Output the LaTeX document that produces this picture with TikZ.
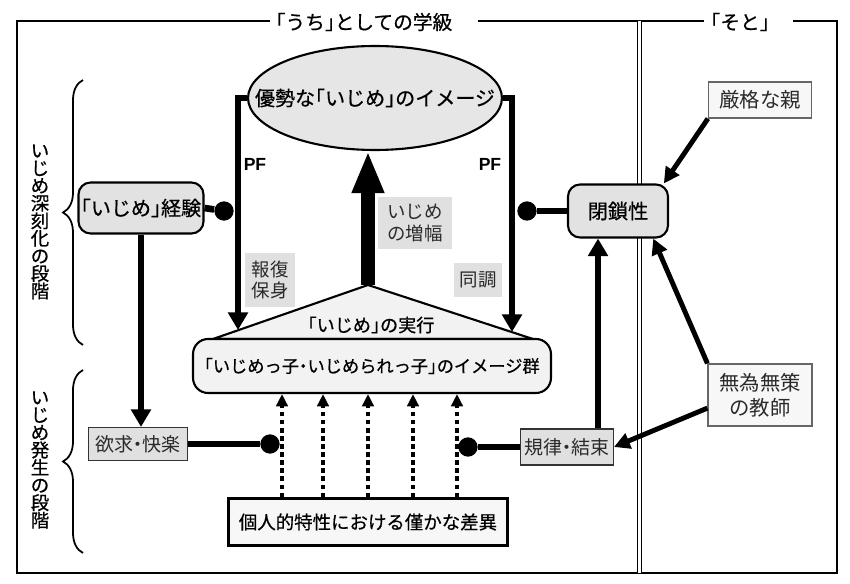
\documentclass[tikz,border=0pt]{standalone}
\usepackage{fontspec}
\setmainfont{Noto Sans CJK JP}[RawFeature=+halt]
\newfontfamily\jpmain{Noto Sans CJK JP}[RawFeature=+halt,FakeBold=0.6]
\newfontfamily\pffont{Liberation Sans}
\usepackage{tikz}
\usetikzlibrary{decorations.pathreplacing}
\usetikzlibrary{positioning,arrows.meta,calc,shapes.geometric}
\definecolor{boxgray}{HTML}{E2E2E2}
\definecolor{ellgray}{HTML}{E6E6E6}
\definecolor{palegray}{HTML}{F2F2F2}
\definecolor{labgray}{HTML}{E0E0E0}
\definecolor{whitish}{HTML}{F7F7F7}
\definecolor{textgray}{HTML}{2A2A2A}

\begin{document}
\begin{tikzpicture}[x=0.02cm,y=-0.02cm,
		font=\fontsize{10.5}{12}\selectfont,
		frame/.style={line width=1.6pt},
		mainbox/.style={draw,line width=1.2pt,rounded corners=0.24cm,fill=boxgray,inner sep=0pt},
		labbox/.style={fill=labgray,inner sep=0pt,text=textgray,align=center},
		smallbox/.style={draw=black!80,line width=0.6pt,fill=labgray,inner sep=0pt,text=textgray,font=\fontsize{10.8}{12}\selectfont},
		outbox/.style={draw=black!60,line width=0.7pt,fill=whitish,inner sep=0pt,align=center,text=textgray,font=\fontsize{11.6}{14}\selectfont},
		thickarr/.style={line width=3.8pt,-{Triangle[length=10pt,width=11pt]}},
		outarr/.style={line width=2.8pt,-{Triangle[length=9pt,width=9pt]}},
		link/.style={line width=3.8pt},
		blob/.style={circle,fill=black,minimum size=11pt,inner sep=0pt},
		dotarr/.style={line width=2.4pt,dash pattern=on 2.6pt off 2pt,-{Triangle[length=7pt,width=6.5pt]}},
		tate/.style={align=center,font=\jpmain\fontsize{10.5}{10}\selectfont},
		bracestyle/.style={line width=1pt,decorate,decoration={brace,amplitude=0.4cm}},
		pflabel/.style={font=\pffont\bfseries\fontsize{10}{12}\selectfont}]
		
		\useasboundingbox (0,0) rectangle (850,584);
		
		\node[inner sep=0pt,font=\jpmain\fontsize{11.2}{13}\selectfont] (uchi) at (364,22) {「うち」としての学級};
		\node[inner sep=0pt,font=\jpmain\fontsize{11.2}{13}\selectfont] (soto) at (740,22) {「そと」};
		\draw[frame] ([xshift=-0.1cm]uchi.west |- 0,21) -- (17,21) -- (17,573) -- (837,573) -- (837,21) -- ([xshift=0.46cm]soto.east |- 0,21);
		\draw[frame] ([xshift=0.5cm]uchi.east |- 0,21) -- ([xshift=-0.12cm]soto.west |- 0,21);
		\draw[double,line width=0.6pt,double distance=1.8pt] (639.5,21) -- (639.5,573);
		
		\draw[bracestyle] (83,345) -- (83,80);
		\draw[bracestyle] (83,553) -- (83,370);
		\node[tate] (shinkoku) at (40,222) {い\\じ\\め\\深\\刻\\化\\の\\段\\階};
		\node[tate] (hassei) at (40,460) {い\\じ\\め\\発\\生\\の\\段\\階};
		
		\coordinate (apex) at (368,285);
		\coordinate (triL) at (213,339);
		\coordinate (triR) at (533,339);
		\draw[line width=1.2pt,fill=palegray] (triL) -- (apex) -- (triR) -- cycle;
		
		\node[mainbox,fill=palegray,rounded corners=0.3cm,minimum width=7.16cm,minimum height=1.08cm,font=\jpmain\fontsize{9.8}{11}\selectfont] (gun) at (372,366) {「いじめっ子・いじめられっ子」のイメージ群};
		\node[font=\jpmain\fontsize{10.3}{11}\selectfont] (jikko) at (371,325) {「いじめ」の実行};
		\node[ellipse,draw,line width=1.2pt,fill=ellgray,minimum width=5.08cm,minimum height=2.08cm,inner sep=0pt,
			label={[font=\jpmain\fontsize{11.4}{13}\selectfont]center:優勢な「いじめ」のイメージ}] (imgE) at (375,98) {};
		
		\node[mainbox,minimum width=2.5cm,minimum height=1.02cm,font=\jpmain\fontsize{11.4}{13}\selectfont] (keiken) at (141,208) {「いじめ」経験};
		\node[mainbox,minimum width=2cm,minimum height=1.06cm,font=\jpmain\fontsize{11.5}{13}\selectfont] (heisa) at (618,211) {閉鎖性};
		\node[smallbox,minimum width=1.98cm,minimum height=0.66cm] (yokkyu) at (138,444) {欲求・快楽};
		\node[smallbox,minimum width=1.86cm,minimum height=0.72cm] (kiritsu) at (567,447) {規律・結束};
		\node[outbox,minimum width=2.06cm,minimum height=0.72cm] (genkaku) at (760,100) {厳格な親};
		\node[outbox,minimum width=2.08cm,minimum height=1.24cm] (mui) at (760,395) {無為無策\\の教師};
		\node[draw,line width=1.5pt,fill=whitish,minimum width=5.58cm,minimum height=0.94cm,inner sep=0pt,font=\jpmain\fontsize{10.5}{12}\selectfont] (sabun) at (368,522) {個人的特性における僅かな差異};
		
		\node[labbox,minimum width=1cm,minimum height=1.08cm] (hofuku) at (270,280) {報復\\保身};
		\node[labbox,minimum width=0.98cm,minimum height=0.68cm] (docho) at (478,280) {同調};
		\node[labbox,minimum width=1.5cm,minimum height=1.06cm] (zofuku) at (415,223) {いじめ\\の増幅};
		\node[pflabel] (pfL) at (255,164) {PF};
		\node[pflabel] (pfR) at (490,164) {PF};
		
		\coordinate (pfLend) at (238,330);
		\coordinate (pfRend) at (512,332);
		\draw[thickarr] (imgE.west) -| (pfLend);
		\draw[thickarr] (imgE.east) -| (pfRend);
		\draw[line width=8pt,-{Triangle[length=24pt,width=17pt]}] (apex) -- (apex |- imgE.south);
		
		\foreach \x [count=\i] in {282,323,368,413,457} {
			\coordinate (dd\i) at (\x,0);
			\draw[dotarr] (sabun.north -| dd\i) -- (gun.south -| dd\i);
		}
		
		\draw[thickarr] (keiken.south) -- (keiken.south |- yokkyu.north);
		
		\node[blob] (dotA) at (224,211) {};
		\node[blob] (dotB) at (527,211) {};
		\node[blob] (dotC) at (270,444) {};
		\node[blob] (dotD) at (468,447) {};
		\draw[link] (keiken.east) -- (dotA);
		\draw[link] (dotB) -- (heisa.west);
		\draw[link] (yokkyu.east) -- (dotC);
		\draw[link] (kiritsu.west) -- (dotD);
		
		\draw[outarr] (genkaku.south west) -- (heisa.31);
		\draw[outarr] (mui.north west) -- (heisa.-38);
		\draw[outarr] (mui.194) -- (kiritsu.east);
		\coordinate (kup) at ([xshift=-0.32cm]kiritsu.north east);
		\draw[thickarr] (kup) -- (kup |- heisa.south);
		
	\end{tikzpicture}
\end{document}
